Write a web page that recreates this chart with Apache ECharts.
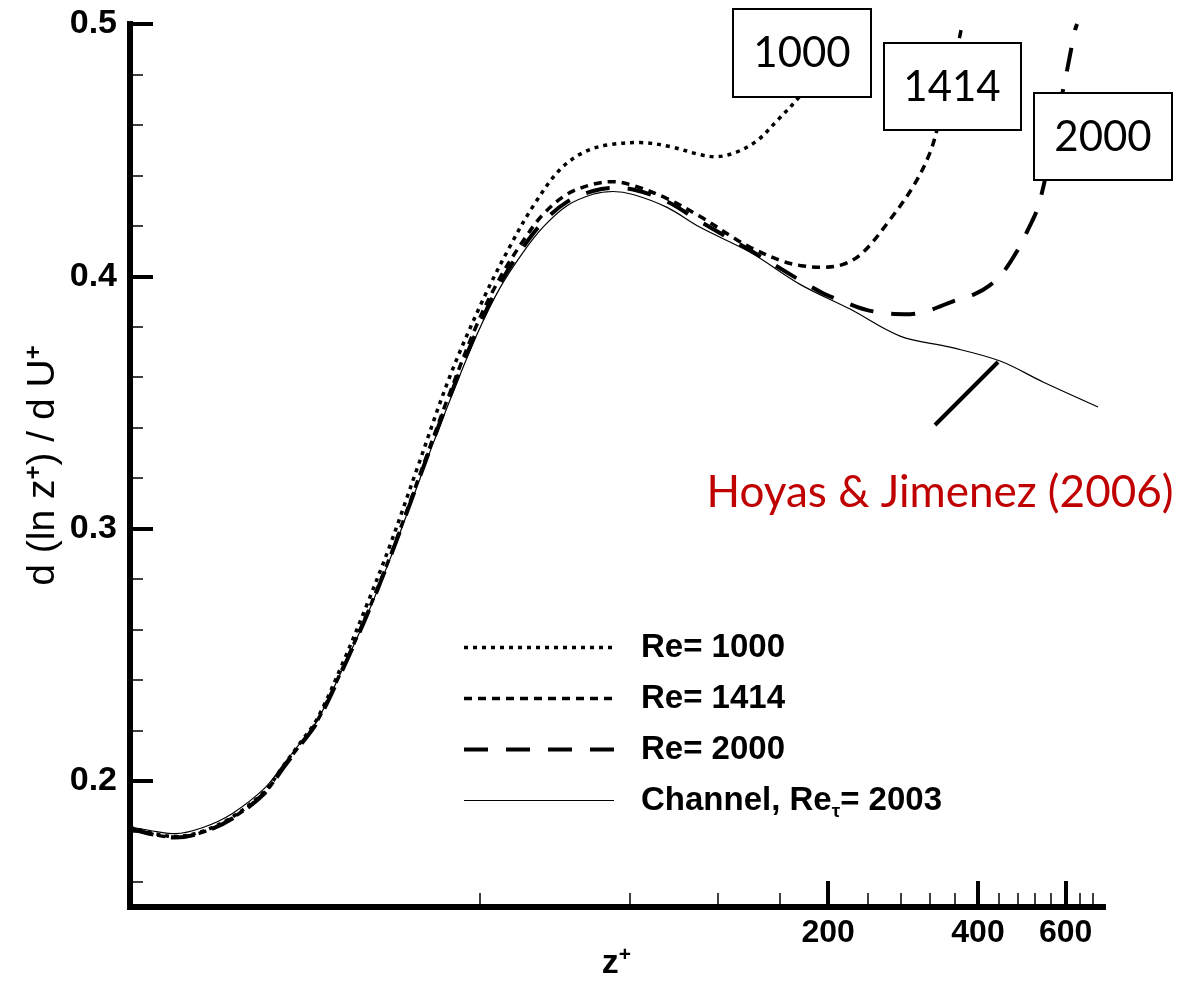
<!DOCTYPE html>
<html><head><meta charset="utf-8">
<script src="https://cdn.jsdelivr.net/npm/echarts@6/dist/echarts.min.js"></script>
<style>html,body{margin:0;padding:0;background:#fff}#c{width:1182px;height:986px}</style>
</head><body><div id="c"></div><script>
// ---- data (z+ positions and d(ln z+)/dU+ values) ----
const zTicksMinor = [40, 80, 120, 160, 240, 280, 320, 360, 440, 480, 520, 560, 640, 680];
const zTicksMajor = [200, 400, 600];
const yTicksMajor = [0.2, 0.3, 0.4, 0.5];
const yTicksMinor = [0.16, 0.18, 0.22, 0.24, 0.26, 0.28, 0.32, 0.34, 0.36, 0.38, 0.42, 0.44, 0.46, 0.48];
const zRange = [7.93, 713];
const yRange = [0.15, 0.5];

const zChannel = [7.93, 9.03, 9.77, 11.07, 12.71, 14.8, 16.09, 17.41, 18.83, 21.24, 23.73, 26.4, 28.94, 31.75, 34.83, 39.46, 43.9, 48.82, 53.54, 59.82, 67.46, 74.0, 81.18, 95.0, 110.7, 139.5, 175.7, 221.4, 279, 351.6, 443, 540.4, 696.8];
const vChannel = [0.1818, 0.1798, 0.1791, 0.1814, 0.1870, 0.1972, 0.2063, 0.2150, 0.2237, 0.2447, 0.2656, 0.2880, 0.3090, 0.3305, 0.3510, 0.3770, 0.3955, 0.4095, 0.4195, 0.4280, 0.4325, 0.4336, 0.4324, 0.4273, 0.4194, 0.4095, 0.3968, 0.3870, 0.3763, 0.3719, 0.3664, 0.3581, 0.3482];

const zRe2000 = [7.93, 9.03, 9.77, 11.07, 12.71, 14.8, 16.09, 17.41, 18.83, 21.24, 23.73, 26.4, 28.94, 31.75, 34.83, 39.46, 43.9, 48.82, 53.54, 59.82, 67.46, 74.0, 81.18, 95.0, 110.7, 139.5, 175.7, 195.4, 221.4, 239.7, 266.4, 292.2, 320.4, 356.5, 394.8, 423.0, 447.0, 479.3, 504.0, 525.8, 550.6, 576.7, 604.0, 626.6, 632.5];
const vRe2000 = [0.1810, 0.1783, 0.1775, 0.1795, 0.1850, 0.1952, 0.2050, 0.2140, 0.2232, 0.2445, 0.2658, 0.2885, 0.3098, 0.3315, 0.3525, 0.3785, 0.3972, 0.4115, 0.4215, 0.4295, 0.4338, 0.4350, 0.4344, 0.4296, 0.4217, 0.4103, 0.3984, 0.3933, 0.3889, 0.3866, 0.3852, 0.3850, 0.3866, 0.3901, 0.3930, 0.3965, 0.4010, 0.4100, 0.4185, 0.4265, 0.4420, 0.4621, 0.4818, 0.4976, 0.5];

const zRe1414 = [7.93, 9.03, 9.77, 11.07, 12.71, 14.8, 16.09, 17.41, 18.83, 21.24, 23.73, 26.4, 28.94, 31.75, 34.83, 39.46, 43.9, 48.82, 53.54, 59.82, 67.46, 74.0, 81.18, 95.0, 110.7, 128.9, 139.5, 162.4, 175.7, 192.7, 214.4, 235.1, 266.4, 296.4, 320.4, 335.8, 351.6, 368.2, 371.7];
const vRe1414 = [0.1811, 0.1784, 0.1776, 0.1796, 0.1852, 0.1955, 0.2053, 0.2143, 0.2236, 0.2450, 0.2663, 0.2890, 0.3105, 0.3325, 0.3540, 0.3810, 0.3995, 0.4140, 0.4245, 0.4325, 0.4365, 0.4375, 0.4360, 0.4308, 0.4237, 0.4154, 0.4115, 0.4059, 0.4043, 0.4036, 0.4047, 0.4095, 0.4225, 0.4356, 0.4490, 0.4628, 0.4779, 0.4957, 0.5];

const zRe1000 = [7.93, 9.03, 9.77, 11.07, 12.71, 14.8, 16.09, 17.41, 18.83, 21.24, 23.73, 26.4, 29.9, 34.83, 40.6, 45.96, 51.1, 57.9, 65.0, 72.98, 83.9, 96.3, 110.7, 118.6, 130.1, 144.1, 158.0, 175.7, 185.7, 201.9];
const vRe1000 = [0.1815, 0.1788, 0.1779, 0.1800, 0.1856, 0.1960, 0.2058, 0.2150, 0.2245, 0.2470, 0.2700, 0.2935, 0.3237, 0.3605, 0.3909, 0.4119, 0.4277, 0.4423, 0.4494, 0.4522, 0.4530, 0.4514, 0.4482, 0.4474, 0.4490, 0.4538, 0.4617, 0.4715, 0.4787, 0.5];

const seriesNames = ['Re= 1000', 'Re= 1414', 'Re= 2000', 'Channel'];
const boxLabels = ['1000', '1414', '2000'];
const refLabel = 'Hoyas & Jimenez (2006)';

// ---- build ----
const lg = v => Math.log10(v);
const pairs = (z, v) => z.map((x, i) => [lg(x), v[i]]);
const FONT = '"Liberation Sans", Arial, sans-serif';
const CAL = 'Lato, "Open Sans", sans-serif';
const xMin = lg(zRange[0]), xMax = lg(zRange[1]);

const styles = [
  { width: 3.5, type: [4, 5] },
  { width: 3.5, type: [8, 6] },
  { width: 4, type: [24, 18] },
  { width: 1.2, type: 'solid' }
];
const dataSets = [pairs(zRe1000, vRe1000), pairs(zRe1414, vRe1414), pairs(zRe2000, vRe2000), pairs(zChannel, vChannel)];

const chart = echarts.init(document.getElementById('c'));
const option = {
  animation: false,
  backgroundColor: '#fff',
  grid: { left: 130, right: 79, top: 24, bottom: 76 },
  xAxis: [
    {
      type: 'value', min: xMin, max: xMax, position: 'bottom',
      axisLine: { lineStyle: { color: '#000', width: 6, cap: 'square' } },
      axisTick: { inside: true, length: 14, lineStyle: { color: '#000', width: 1.5 }, customValues: zTicksMinor.map(lg) },
      axisLabel: { show: false },
      splitLine: { show: false },
      name: '{t|z}{p|+}', nameLocation: 'middle', nameGap: 38,
      nameTextStyle: { rich: {
        t: { fontFamily: FONT, fontSize: 34, fontWeight: 'bold', color: '#000', lineHeight: 38 },
        p: { fontFamily: FONT, fontSize: 21, fontWeight: 'bold', color: '#000', verticalAlign: 'top', lineHeight: 21 }
      } }
    },
    {
      type: 'value', min: xMin, max: xMax, position: 'bottom',
      axisLine: { show: false },
      axisTick: { inside: true, length: 26, lineStyle: { color: '#000', width: 4 }, customValues: zTicksMajor.map(lg) },
      axisLabel: { customValues: zTicksMajor.map(lg), formatter: v => String(Math.round(Math.pow(10, v))), fontFamily: FONT, fontSize: 32, fontWeight: 'bold', color: '#000', margin: 10 },
      splitLine: { show: false }
    }
  ],
  yAxis: [
    {
      type: 'value', min: yRange[0], max: yRange[1], position: 'left',
      axisLine: { lineStyle: { color: '#000', width: 6, cap: 'square' } },
      axisTick: { inside: true, length: 13, lineStyle: { color: '#000', width: 1.5 }, customValues: yTicksMinor },
      axisLabel: { show: false },
      splitLine: { show: false },
      name: '{t|d (ln z}{p|+}{t|) / d U}{p|+}', nameLocation: 'middle', nameGap: 66, nameRotate: 90,
      nameTextStyle: { rich: {
        t: { fontFamily: FONT, fontSize: 39, color: '#000', lineHeight: 42 },
        p: { fontFamily: FONT, fontSize: 24, fontWeight: 'bold', color: '#000', verticalAlign: 'top', lineHeight: 24 }
      } }
    },
    {
      type: 'value', min: yRange[0], max: yRange[1], position: 'left',
      axisLine: { show: false },
      axisTick: { inside: true, length: 23, lineStyle: { color: '#000', width: 4 }, customValues: yTicksMajor },
      axisLabel: { customValues: yTicksMajor, formatter: v => v.toFixed(1), fontFamily: FONT, fontSize: 34, fontWeight: 'bold', color: '#000', margin: 13 },
      splitLine: { show: false }
    }
  ],
  legend: {
    orient: 'vertical', left: 462, top: 631, padding: 0, itemWidth: 150, itemHeight: 30, itemGap: 18,
    data: seriesNames.map((n, i) => ({ name: n, lineStyle: { color: '#000', width: styles[i].width, type: styles[i].type }, itemStyle: { opacity: 0 } })),
    formatter: n => n === 'Channel' ? '{g| }{t|Channel, Re}{s|τ}{t|= 2003}' : '{g| }{t|' + n + '}',
    textStyle: {
      rich: {
        g: { width: 22 },
        t: { fontFamily: FONT, fontSize: 33, fontWeight: 'bold', color: '#000', lineHeight: 30 },
        s: { fontFamily: FONT, fontSize: 19, fontWeight: 'bold', color: '#000', verticalAlign: 'bottom', lineHeight: 42 }
      }
    }
  },
  series: seriesNames.map((n, i) => ({
    name: n, type: 'line', data: dataSets[i], xAxisIndex: 0, yAxisIndex: 0,
    showSymbol: false, symbol: 'none', smooth: 0.35, clip: true,
    lineStyle: { color: '#000', width: styles[i].width, type: styles[i].type },
    z: 3
  })),
  graphic: [
    { type: 'rect', z: 100, shape: { x: 733, y: 9, width: 138, height: 88 }, style: { fill: '#fff', stroke: '#000', lineWidth: 2 } },
    { type: 'rect', z: 100, shape: { x: 884, y: 43, width: 137, height: 87 }, style: { fill: '#fff', stroke: '#000', lineWidth: 2 } },
    { type: 'rect', z: 100, shape: { x: 1034, y: 93, width: 138, height: 87 }, style: { fill: '#fff', stroke: '#000', lineWidth: 2 } },
    { type: 'text', z: 101, x: 802, y: 53, style: { text: boxLabels[0], font: '42px ' + CAL, fill: '#000', align: 'center', verticalAlign: 'middle' } },
    { type: 'text', z: 101, x: 952, y: 87, style: { text: boxLabels[1], font: '42px ' + CAL, fill: '#000', align: 'center', verticalAlign: 'middle' } },
    { type: 'text', z: 101, x: 1103, y: 137, style: { text: boxLabels[2], font: '42px ' + CAL, fill: '#000', align: 'center', verticalAlign: 'middle' } },
    { type: 'line', z: 100, shape: { x1: 935, y1: 425, x2: 998, y2: 362 }, style: { stroke: '#000', lineWidth: 4 } },
    { type: 'text', z: 101, x: 940, y: 493, style: { text: refLabel, font: '44px ' + CAL, fill: '#c00000', align: 'center', verticalAlign: 'middle' } }
  ]
};
chart.setOption(option);
</script></body></html>
